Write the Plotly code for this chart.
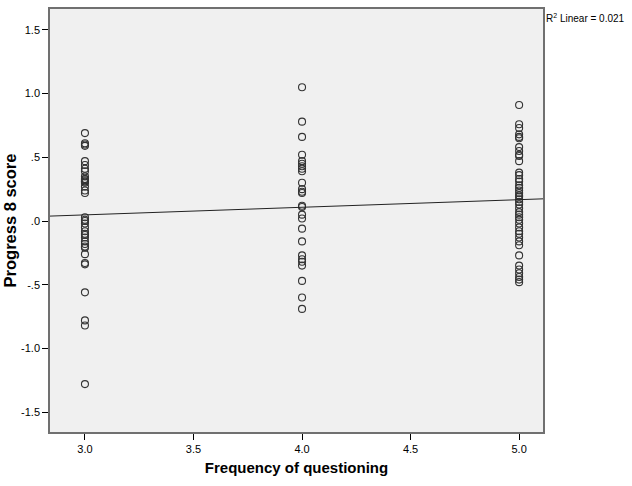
import numpy as np
import plotly.graph_objects as go

freq_3 = [0.69, 0.61, 0.60, 0.59, 0.47, 0.44, 0.41, 0.39, 0.35, 0.33, 0.33, 0.32, 0.31,
          0.31, 0.30, 0.27, 0.24, 0.22,
          0.03, 0.01, 0.00, -0.02, -0.05, -0.08, -0.10, -0.11, -0.13, -0.16, -0.18, -0.20,
          -0.21, -0.26, -0.33, -0.34, -0.56, -0.78, -0.82, -1.28]
freq_4 = [1.05, 0.78, 0.66, 0.52, 0.47, 0.45, 0.43, 0.41, 0.39, 0.30, 0.25, 0.23, 0.22,
          0.12, 0.11, 0.05, 0.02, -0.06, -0.16, -0.27, -0.30, -0.32, -0.35, -0.47, -0.60, -0.69]
freq_5 = [0.91, 0.76, 0.73, 0.68, 0.66, 0.65, 0.58, 0.55, 0.52, 0.51, 0.47, 0.38, 0.36,
          0.33, 0.31, 0.28, 0.26, 0.24, 0.22, 0.20, 0.19, 0.17, 0.15, 0.13, 0.10, 0.07,
          0.05, 0.03, 0.01, -0.02, -0.05, -0.08, -0.10, -0.13, -0.16, -0.19, -0.27,
          -0.35, -0.38, -0.41, -0.44, -0.46, -0.48]
x_levels = [3.0, 4.0, 5.0]
x_ticks = [3.0, 3.5, 4.0, 4.5, 5.0]
x_tick_labels = ["3.0", "3.5", "4.0", "4.5", "5.0"]
y_ticks = [1.5, 1.0, 0.5, 0.0, -0.5, -1.0, -1.5]
y_tick_labels = ["1.5", "1.0", ".5", ".0", "-.5", "-1.0", "-1.5"]
x_range = [2.839, 5.11]
y_range = [-1.656, 1.664]

xs = [x_levels[0]] * len(freq_3) + [x_levels[1]] * len(freq_4) + [x_levels[2]] * len(freq_5)
ys = freq_3 + freq_4 + freq_5
slope, intercept = np.polyfit(xs, ys, 1)

fig = go.Figure()
fig.add_trace(go.Scatter(
    x=xs, y=ys, mode="markers",
    marker=dict(symbol="circle-open", size=7, color="#333333", line=dict(width=1.1, color="#333333")),
    showlegend=False, hoverinfo="skip"))
lx = np.array(x_range)
fig.add_trace(go.Scatter(
    x=lx, y=intercept + slope * lx, mode="lines",
    line=dict(color="#222222", width=1), showlegend=False, hoverinfo="skip"))

fig.add_annotation(
    x=1.0, y=1.0, xref="paper", yref="paper", xanchor="left", yanchor="top",
    xshift=1, yshift=-1,
    text="R<sup>2</sup> Linear = 0.021", showarrow=False,
    font=dict(family="Liberation Sans, Arial", size=10, color="#000000"))

fig.update_layout(
    width=632, height=486,
    margin=dict(l=50, r=89, t=7, b=54),
    paper_bgcolor="white", plot_bgcolor="#f0f0f0",
    font=dict(family="Liberation Sans, Arial", size=11, color="#000000"),
)
fig.update_xaxes(
    range=x_range, tickvals=x_ticks, ticktext=x_tick_labels,
    showgrid=False, zeroline=False, showline=True, linecolor="#707070", linewidth=1.5,
    mirror=True, ticks="outside", ticklen=6, tickcolor="#000000",
    title=dict(text="<b>Frequency of questioning</b>", font=dict(size=15), standoff=9),
    tickfont=dict(size=11))
fig.update_yaxes(
    range=y_range, tickvals=y_ticks, ticktext=y_tick_labels,
    showgrid=False, zeroline=False, showline=True, linecolor="#707070", linewidth=1.5,
    mirror=True, ticks="outside", ticklen=6, tickcolor="#000000",
    title=dict(text="<b>Progress 8 score</b>", font=dict(size=16.5), standoff=0),
    tickfont=dict(size=11))

fig.write_html("out.html", config={"displayModeBar": False},
               post_script="document.body.style.margin='0';")
